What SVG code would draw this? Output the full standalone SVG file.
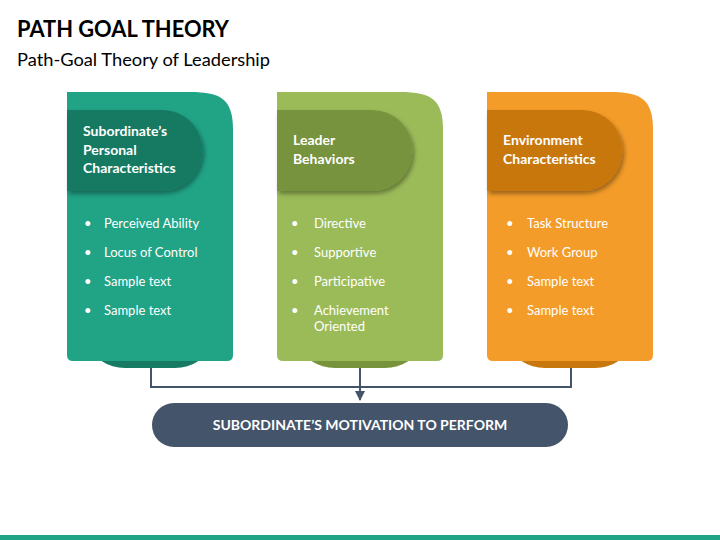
<svg xmlns="http://www.w3.org/2000/svg" width="720" height="540" viewBox="0 0 720 540">
<defs>
<style>
.title{font-family:Lato,"Liberation Sans",sans-serif;font-weight:bold;font-size:23px;fill:#000}
.sub{font-family:Lato,"Liberation Sans",sans-serif;font-size:17px;fill:#000}
.hd{font-family:Lato,"Liberation Sans",sans-serif;font-weight:bold;font-size:14px;fill:#fff}
.bl{font-family:Lato,"Liberation Sans",sans-serif;font-size:13px;fill:#fff}
.pt{font-family:Lato,"Liberation Sans",sans-serif;font-weight:bold;font-size:14px;fill:#fff}
.conn{fill:none;stroke:#44546a;stroke-width:2}
</style>
<filter id="sh" x="-10%" y="-10%" width="130%" height="140%">
<feDropShadow dx="2" dy="3" stdDeviation="2" flood-color="#000" flood-opacity="0.35"/>
</filter>
<marker id="arr" viewBox="0 0 10 10" refX="9" refY="5" markerWidth="5" markerHeight="5" orient="auto">
<path d="M0,0 L10,5 L0,10 Z" fill="#44546a"/>
</marker>
</defs>
<rect width="720" height="540" fill="#fff"/>
<text class="title" x="17" y="37" textLength="212" lengthAdjust="spacingAndGlyphs">PATH GOAL THEORY</text>
<text class="sub" x="17" y="66" textLength="253" lengthAdjust="spacingAndGlyphs">Path-Goal Theory of Leadership</text>

<g id="connectors">
<path class="conn" d="M151,368 V387 H571 V368"/>
<path class="conn" d="M360,368 V400" marker-end="url(#arr)"/>
</g>

<g id="card1">
<rect x="93" y="320" width="114" height="48" rx="32" ry="22" fill="#177a62"/>
<path d="M67,92 H190 C222,92 233,100 233,130 V355 Q233,361 227,361 H73 Q67,361 67,355 Z" fill="#21a386"/>
<path d="M67,110 H162 A40.5,40.5 0 0 1 162,191 H67 Z" fill="#177a62" filter="url(#sh)"/>
<text class="hd" x="83" y="136">Subordinate’s</text>
<text class="hd" x="83" y="155">Personal</text>
<text class="hd" x="83" y="173">Characteristics</text>
<g class="bl">
<text x="84" y="228">•</text><text x="104" y="228">Perceived Ability</text>
<text x="84" y="257">•</text><text x="104" y="257">Locus of Control</text>
<text x="84" y="286">•</text><text x="104" y="286">Sample text</text>
<text x="84" y="315">•</text><text x="104" y="315">Sample text</text>
</g>
</g>

<g id="card2">
<rect x="303" y="320" width="114" height="48" rx="32" ry="22" fill="#77933c"/>
<path d="M277,92 H400 C432,92 443,100 443,130 V355 Q443,361 437,361 H283 Q277,361 277,355 Z" fill="#9bbb59"/>
<path d="M277,110 H372 A40.5,40.5 0 0 1 372,191 H277 Z" fill="#77933c" filter="url(#sh)"/>
<text class="hd" x="293" y="145">Leader</text>
<text class="hd" x="293" y="164">Behaviors</text>
<g class="bl">
<text x="291" y="228">•</text><text x="314" y="228">Directive</text>
<text x="291" y="257">•</text><text x="314" y="257">Supportive</text>
<text x="291" y="286">•</text><text x="314" y="286">Participative</text>
<text x="291" y="315">•</text><text x="314" y="315">Achievement</text>
<text x="314" y="331">Oriented</text>
</g>
</g>

<g id="card3">
<rect x="513" y="320" width="114" height="48" rx="32" ry="22" fill="#c8770d"/>
<path d="M487,92 H610 C642,92 653,100 653,130 V355 Q653,361 647,361 H493 Q487,361 487,355 Z" fill="#f39c29"/>
<path d="M487,110 H582 A40.5,40.5 0 0 1 582,191 H487 Z" fill="#c8770d" filter="url(#sh)"/>
<text class="hd" x="503" y="145">Environment</text>
<text class="hd" x="503" y="164">Characteristics</text>
<g class="bl">
<text x="506" y="228">•</text><text x="527" y="228">Task Structure</text>
<text x="506" y="257">•</text><text x="527" y="257">Work Group</text>
<text x="506" y="286">•</text><text x="527" y="286">Sample text</text>
<text x="506" y="315">•</text><text x="527" y="315">Sample text</text>
</g>
</g>

<g id="outcome">
<rect x="152" y="403" width="416" height="44" rx="22" fill="#44546a"/>
<text class="pt" x="360" y="430" text-anchor="middle">SUBORDINATE’S MOTIVATION TO PERFORM</text>
</g>

<rect x="0" y="535" width="720" height="5" fill="#21a386"/>
</svg>
